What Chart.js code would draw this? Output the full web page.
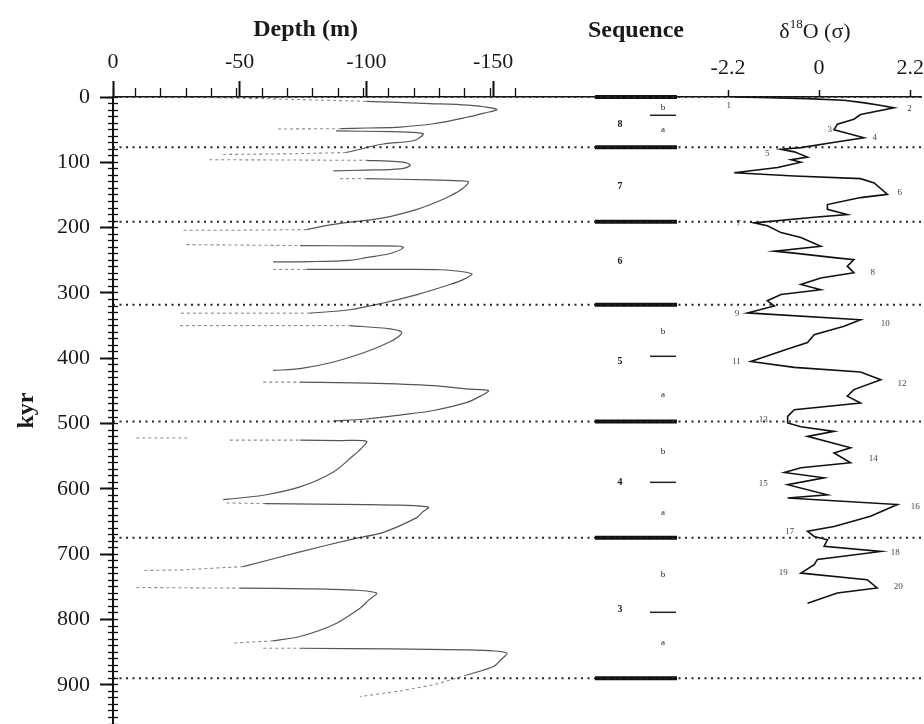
<!DOCTYPE html>
<html>
<head>
<meta charset="utf-8">
<script src="https://cdn.jsdelivr.net/npm/chart.js@4.4.1/dist/chart.umd.min.js"></script>
<style>
  html, body { margin: 0; padding: 0; background: #fff; }
  #wrap { width: 924px; height: 724px; }
</style>
</head>
<body>
<div id="wrap"><canvas id="chart" width="924" height="724"></canvas></div>
<script>
// ages in kyr, depths in m (negative = deeper), d18O in sigma units
var ageTicks = [0, 100, 200, 300, 400, 500, 600, 700, 800, 900];
var depthTicks = [0, -50, -100, -150];
var d18Ticks = [-2.2, 0, 2.2];

// sequence boundaries (dotted lines + thick bars)
var boundaryAges = [0, 77, 191, 318, 497, 675, 890];
var sequenceNames = [['8', 42], ['7', 137], ['6', 251], ['5', 405], ['4', 590], ['3', 785]];
var subSequences = [['b', 16], ['a', 50], ['b', 359], ['a', 456], ['b', 543], ['a', 636], ['b', 731], ['a', 836]];
var subBreaks = [28, 397, 590, 789];

// depth traces [depth, age]
var depthSolid = [
  [[-100,6.6],[-125,10],[-140,12.5],[-151.5,19],[-146,25],[-139.7,31],[-126.5,41],[-113.3,46],[-100,47.5],[-90,48.5]],
  [[-88,52],[-110,53],[-120,54.5],[-122.5,57],[-118.6,67],[-106.7,72],[-92,85]],
  [[-100,97],[-112,99],[-116,101],[-117.3,105],[-113.3,110],[-100,112],[-87,113]],
  [[-100,125],[-125,127],[-137,128.5],[-140.3,130],[-138,140],[-133,151.5],[-127,162],[-120,172],[-106.7,185],[-87,195],[-76.4,203]],
  [[-73.8,227.5],[-100,228],[-113.3,228.5],[-114.6,231],[-109,240],[-100,246],[-93.5,250],[-77.7,252],[-63.2,252.5]],
  [[-76.4,264],[-110,264],[-129.1,264.5],[-141.6,270.6],[-138,280],[-133,287],[-120,302.5],[-106.7,315.4],[-93.5,325.7],[-77.7,331]],
  [[-93.5,350],[-109.4,355],[-114,360],[-113,366],[-109.4,374.7],[-100,390],[-87,405.7],[-73.8,416],[-63.2,418.6]],
  [[-73.8,436.6],[-100,438],[-126.5,441.8],[-139.7,447],[-148.2,449.5],[-145,458],[-139.7,467.6],[-126.5,480],[-113.3,487],[-100,493],[-87,496]],
  [[-73.8,525.4],[-90,526],[-100.1,527],[-98,538],[-94.9,549],[-87,574],[-73.8,597],[-60.6,609],[-50,614],[-43.5,616.6]],
  [[-60,622.5],[-100,624],[-113.3,625],[-124.5,628],[-122,636],[-119.9,644],[-106.7,666.5],[-94.9,676.5],[-73.8,696.5],[-51.4,719]],
  [[-50,752],[-77.7,753],[-95,755],[-104,759.6],[-101,770],[-97.5,782.6],[-87,808],[-73.8,826],[-63.2,832.7]],
  [[-73.8,844],[-110,845],[-139.7,846.5],[-150,848],[-155.5,851.6],[-153,862],[-150.2,872],[-139.7,885]]
];
var depthDashed = [
  [[-30,0.5],[-60,2.5],[-100,6.6]],
  [[-90,48.5],[-65,49]],
  [[-92,85],[-70,87],[-43.5,88]],
  [[-38,96],[-70,96.5],[-100,97]],
  [[-89.6,125],[-100,125]],
  [[-76.4,203],[-50,204],[-27.7,204]],
  [[-29,226],[-73.8,227.5]],
  [[-63.2,264],[-76.4,264]],
  [[-77.7,331],[-26.4,331]],
  [[-26.4,350],[-93.5,350]],
  [[-59.3,436.6],[-73.8,436.6]],
  [[-9.2,522],[-30.3,522]],
  [[-46.1,525.4],[-73.8,525.4]],
  [[-44.8,621.6],[-60,622.5]],
  [[-51.4,719],[-27.7,724],[-11.9,725]],
  [[-9.2,751],[-50,752]],
  [[-63.2,832.7],[-47.4,836]],
  [[-59.3,844],[-73.8,844]],
  [[-139.7,885],[-126.5,900],[-113.3,909.4],[-97.5,918]]
];

// d18O curve [value, age]
var d18Curve = [
  [-2.05,0],[-1.2,1],[-0.3,2.5],[0.6,5],[1.1,9],[1.5,13],[1.81,16.6],[1.0,26.8],[0.84,34],[0.44,41.8],
  [0.36,50],[0.7,56],[1.08,62.5],[0.3,70],[-0.44,77.5],[-0.92,80],[-0.6,84],[-0.28,92],[-0.68,96],[-0.44,100],
  [-1.0,108],[-2.05,116],[-0.6,121],[1.0,125],[1.33,131.5],[1.65,149],[1.0,154],[0.2,164.7],[0.2,172],[0.68,180],
  [-0.12,184],[-1.57,192.7],[-1.25,197],[-0.92,207.6],[-0.44,215],[0.04,228.5],[-1.08,236],[-0.6,239],[0.36,246],[0.84,249],
  [0.68,259],[0.84,269],[0.04,277],[-0.44,287],[0.04,295],[-0.92,302.5],[-1.25,312],[-1.08,320],[-1.73,330.6],[1.0,341],
  [0.6,351],[-0.12,364],[-0.28,376],[-0.76,386],[-1.4,399.6],[-1.65,405],[-0.6,414],[1.0,421],[1.49,432.8],[0.84,448],
  [0.68,458],[1.0,468.5],[-0.6,478.7],[-0.76,489],[-0.76,499],[-0.44,505],[0.36,512],[-0.28,519.6],[0.76,537],[0.36,545],
  [0.76,560],[-0.44,567.6],[-0.84,575],[0.12,583],[-0.76,593.6],[0.2,609],[-0.76,614],[1.89,624],[1.24,642],[0.36,657.5],
  [-0.28,665],[-0.12,672.8],[0.2,678],[0.12,688],[1.49,695.8],[-0.04,708],[-0.12,716],[-0.44,729],[1.16,739],[1.4,751.7],
  [0.44,759.5],[-0.28,775]
];
// marine isotope stage labels [text, value, age]
var stageLabels = [
  ['1',-2.13,13],['2',2.13,17.8],['3',0.2,49.7],['4',1.29,62.5],['5',-1.2,86.5],['6',1.89,145.7],['7',-1.89,193.6],
  ['8',1.24,269],['9',-1.93,331],['10',1.49,347],['11',-1.89,405],['12',1.89,439],['13',-1.24,494],['14',1.2,553],
  ['15',-1.24,592],['16',2.21,627.6],['17',-0.6,666],['18',1.73,698],['19',-0.76,729],['20',1.8,749]
];

var SERIF = '"Liberation Serif", "DejaVu Serif", serif';
var INK = '#1a1a1a';
// layout of the sequence column, as fractions of the plot width (hidden xs axis)
var SEQ_BAR = [0.5965, 0.698];
var SUB_BAR = [0.6646, 0.6968];
var SEQ_NUM_X = 0.6275, SEQ_SUB_X = 0.6807;

Chart.defaults.font.family = SERIF;

function pts(trace) {
  return trace.map(function (p) { return { x: p[0], y: p[1] }; });
}

var datasets = [];

boundaryAges.forEach(function (a) {
  datasets.push({ data: [{x: 0, y: a}, {x: 1, y: a}], xAxisID: 'xs', yAxisID: 'y',
    borderColor: '#222', borderWidth: 2, borderDash: [2, 4.5], pointRadius: 0, clip: false });
});
boundaryAges.forEach(function (a) {
  datasets.push({ data: [{x: SEQ_BAR[0], y: a}, {x: SEQ_BAR[1], y: a}], xAxisID: 'xs', yAxisID: 'y',
    borderColor: '#111', borderWidth: 4, pointRadius: 0, clip: false });
});
subBreaks.forEach(function (a) {
  datasets.push({ data: [{x: SUB_BAR[0], y: a}, {x: SUB_BAR[1], y: a}], xAxisID: 'xs', yAxisID: 'y',
    borderColor: '#222', borderWidth: 1.5, pointRadius: 0 });
});
depthDashed.forEach(function (t) {
  datasets.push({ data: pts(t), xAxisID: 'x', yAxisID: 'y', borderColor: '#8a8a8a', borderWidth: 1.1,
    borderDash: [3, 3], pointRadius: 0 });
});
depthSolid.forEach(function (t) {
  datasets.push({ data: pts(t), xAxisID: 'x', yAxisID: 'y', borderColor: '#555', borderWidth: 1.2,
    tension: 0.3, pointRadius: 0 });
});
datasets.push({ data: pts(d18Curve), xAxisID: 'xd', yAxisID: 'y', borderColor: '#111', borderWidth: 1.6,
  pointRadius: 0 });

function fixedTicks(list) {
  return function (s) { s.ticks = list.map(function (v) { return { value: v }; }); };
}

var textPlugin = {
  id: 'panelText',
  afterDatasetsDraw: function (chart) {
    var ctx = chart.ctx, s = chart.scales;
    ctx.save();
    ctx.fillStyle = INK;
    ctx.textAlign = 'center';
    ctx.textBaseline = 'middle';
    ctx.font = 'bold 24px ' + SERIF;
    ctx.fillText('Depth (m)', s.x.getPixelForValue(-76), 30);
    ctx.fillText('Sequence', s.xs.getPixelForValue((SEQ_BAR[0] + SEQ_BAR[1]) / 2), 31);

    // delta 18O title with superscript
    var big = '22px ' + SERIF, small = '13px ' + SERIF;
    ctx.font = big; var w1 = ctx.measureText('\u03b4').width, w3 = ctx.measureText('O (\u03c3)').width;
    ctx.font = small; var w2 = ctx.measureText('18').width;
    var x0 = s.xd.getPixelForValue(-0.1) - (w1 + w2 + w3) / 2;
    ctx.textAlign = 'left';
    ctx.font = big; ctx.fillText('\u03b4', x0, 32);
    ctx.font = small; ctx.fillText('18', x0 + w1, 25);
    ctx.font = big; ctx.fillText('O (\u03c3)', x0 + w1 + w2, 32);

    // sequence column labels
    ctx.textAlign = 'center';
    ctx.font = 'bold 10px ' + SERIF;
    sequenceNames.forEach(function (d) {
      ctx.fillText(d[0], s.xs.getPixelForValue(SEQ_NUM_X), s.y.getPixelForValue(d[1]));
    });
    ctx.font = '9px ' + SERIF;
    subSequences.forEach(function (d) {
      ctx.fillText(d[0], s.xs.getPixelForValue(SEQ_SUB_X), s.y.getPixelForValue(d[1]));
    });

    // isotope stage numbers
    ctx.fillStyle = '#444';
    ctx.font = '9px ' + SERIF;
    stageLabels.forEach(function (d) {
      ctx.textAlign = d[1] < 0 ? 'right' : 'left';
      ctx.fillText(d[0], s.xd.getPixelForValue(d[1]), s.y.getPixelForValue(d[2]));
    });
    ctx.restore();
  }
};

new Chart(document.getElementById('chart'), {
  type: 'line',
  data: { datasets: datasets },
  plugins: [textPlugin],
  options: {
    responsive: false,
    animation: false,
    devicePixelRatio: 1,
    events: [],
    layout: { padding: { top: 17, left: 0, right: 3, bottom: 0 }, autoPadding: false },
    plugins: { legend: { display: false }, tooltip: { enabled: false } },
    scales: {
      x: {
        type: 'linear', position: 'top', reverse: true, min: -318.9, max: 0, bounds: 'data', weight: 1,
        afterBuildTicks: fixedTicks(depthTicks),
        afterFit: function (s) { s.height = 80; s.paddingLeft = 0; s.paddingRight = 0; },
        ticks: { font: { size: 22 }, color: INK, padding: 6, maxRotation: 0, autoSkip: false,
          callback: function (v) { return String(v); } },
        grid: { drawOnChartArea: false, tickLength: 16, tickWidth: 2, tickColor: '#111' },
        border: { display: true, color: '#111', width: 1.5 }
      },
      xMinor: {
        type: 'linear', position: 'top', reverse: true, min: -318.9, max: 0, bounds: 'data', weight: 0,
        ticks: { display: false, stepSize: 10 },
        afterBuildTicks: function (s) { s.ticks = s.ticks.filter(function (t) { return t.value >= -160; }); },
        afterFit: function (s) { s.height = 0; s.paddingLeft = 0; s.paddingRight = 0; },
        grid: { drawOnChartArea: false, tickLength: 9, tickWidth: 1.3, tickColor: '#111' },
        border: { display: false }
      },
      xd: {
        type: 'linear', position: 'top', min: -17.05, max: 2.46, bounds: 'data', weight: 0,
        afterBuildTicks: fixedTicks(d18Ticks),
        afterFit: function (s) { s.height = 0; s.paddingLeft = 0; s.paddingRight = 0; },
        ticks: { font: { size: 22 }, color: INK, mirror: true, padding: -42, maxRotation: 0, autoSkip: false,
          callback: function (v) { return String(v); } },
        grid: { drawOnChartArea: false, tickLength: 7, tickWidth: 1.5, tickColor: '#111' },
        border: { display: false }
      },
      xs: { type: 'linear', display: false, min: 0, max: 1 },
      y: {
        type: 'linear', position: 'left', reverse: true, min: 0, max: 960, bounds: 'data', weight: 1,
        afterBuildTicks: fixedTicks(ageTicks),
        afterFit: function (s) { s.width = 113; s.paddingTop = 0; s.paddingBottom = 0; },
        ticks: { font: { size: 22 }, color: INK, padding: 10, autoSkip: false },
        grid: { drawOnChartArea: false, tickLength: 13, tickWidth: 2, tickColor: '#111' },
        border: { display: true, color: '#111', width: 2 },
        title: { display: true, text: 'kyr', color: INK, font: { size: 24, weight: 'bold' }, padding: { top: 12 } }
      },
      yMinor: {
        type: 'linear', position: { x: -2 }, reverse: true, min: 0, max: 960, bounds: 'data',
        ticks: { display: false, stepSize: 10 },
        grid: { drawOnChartArea: false, tickLength: 10, tickWidth: 1.3, tickColor: '#111' },
        border: { display: false }
      }
    }
  }
});
</script>
</body>
</html>
